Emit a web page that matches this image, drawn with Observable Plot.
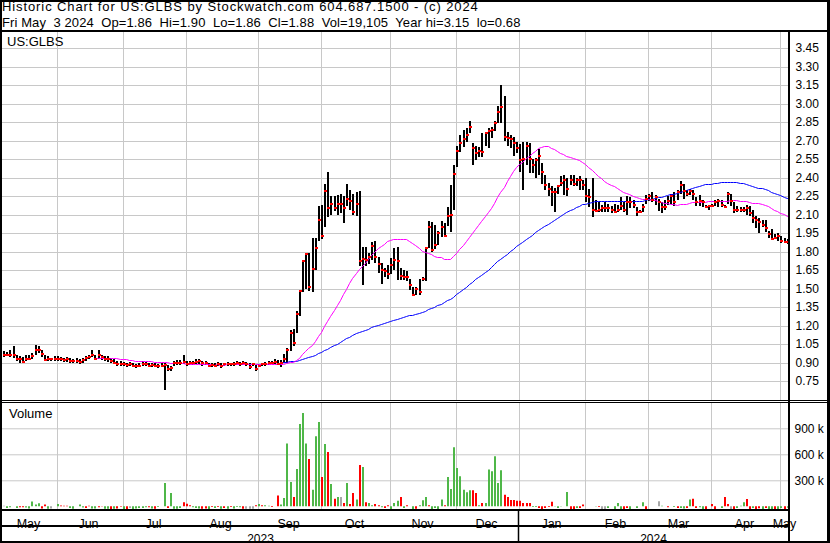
<!DOCTYPE html>
<html>
<head>
<meta charset="utf-8">
<script src="https://cdn.jsdelivr.net/npm/d3@7"></script>
<script src="https://cdn.jsdelivr.net/npm/@observablehq/plot@0.6"></script>
<style>
html,body{margin:0;padding:0;background:#fff;}
#chart{position:relative;width:830px;height:543px;overflow:hidden;background:#fff;font-family:"Liberation Sans",Arial,sans-serif;color:#000;}
#chart .p{position:absolute;left:0;}
#chart .t{position:absolute;white-space:pre;font-size:13px;line-height:13px;}
#chart .l{position:absolute;background:#000;}
</style>
</head>
<body>
<div id="chart"></div>
<script>
// ---------- data ----------
const titleLine = "Historic Chart for US:GLBS by Stockwatch.com 604.687.1500 - (c) 2024";
const quoteLine = "Fri May  3 2024  Op=1.86  Hi=1.90  Lo=1.86  Cl=1.88  Vol=19,105  Year hi=3.15  lo=0.68";
const symbol = "US:GLBS";
const monthNames = ["May","Jun","Jul","Aug","Sep","Oct","Nov","Dec","Jan","Feb","Mar","Apr","May"];
const monthDays  = [17,21,20,23,20,22,21,20,21,20,20,22,3];   // trading days shown per month
const yearNames  = ["2023","2024"];
const yearMonthCount = [8,5];
const priceTicks = [0.75,0.90,1.05,1.20,1.35,1.50,1.65,1.80,1.95,2.10,2.25,2.40,2.55,2.70,2.85,3.00,3.15,3.30,3.45];
const volTicks = [300,600,900];   // thousands

const high = [
.995,.985,1.0,1.03,.96,.955,.945,.96,.96,.975,1.04,1.03,1.0,.965,.95,.94,.95,
.95,.945,.94,.945,.935,.93,.935,.925,.94,.95,.96,1.0,.965,1.0,.965,.955,.95,.935,.925,.915,.91,
.905,.90,.905,.895,.89,.895,.91,.905,.895,.90,.895,.89,.895,.895,.88,.87,.91,.92,.92,.965,
.91,.91,.915,.925,.93,.915,.91,.90,.90,.895,.905,.895,.90,.905,.90,.905,.91,.905,.91,.905,.895,.90,.88,
.89,.90,.905,.91,.915,.925,.92,.92,.97,1.02,1.16,1.17,1.32,1.49,1.73,1.79,1.79,1.91,1.91,2.17,
2.18,2.35,2.45,2.25,2.25,2.26,2.27,2.25,2.35,2.30,2.27,2.28,2.29,1.84,1.84,1.79,1.88,1.89,1.76,1.71,1.67,1.69,
1.75,1.83,1.84,1.67,1.65,1.64,1.58,1.51,1.51,1.58,1.59,1.84,2.05,2.04,2.02,1.97,2.05,2.03,2.16,2.34,2.50,
2.66,2.75,2.79,2.80,2.86,2.68,2.66,2.65,2.76,2.77,2.80,2.81,2.86,2.98,3.15,3.06,2.77,2.75,2.73,2.69,
2.67,2.69,2.69,2.68,2.55,2.56,2.63,2.52,2.42,2.36,2.33,2.32,2.34,2.41,2.42,2.40,2.42,2.42,2.40,2.41,2.38,
2.40,2.31,2.40,2.22,2.20,2.18,2.20,2.19,2.17,2.19,2.18,2.24,2.20,2.25,2.24,2.22,2.16,2.14,2.19,2.26,
2.27,2.28,2.26,2.23,2.20,2.22,2.25,2.27,2.28,2.30,2.37,2.35,2.30,2.31,2.30,2.24,2.26,2.22,2.18,2.18,
2.19,2.22,2.23,2.22,2.18,2.28,2.27,2.20,2.17,2.16,2.16,2.18,2.17,2.14,2.09,2.07,2.06,2.06,1.97,1.98,1.94,1.95,
1.93,1.91,1.90];

const low = [
.945,.95,.945,.94,.915,.90,.895,.915,.92,.925,.96,.975,.945,.91,.91,.91,.915,
.915,.91,.905,.905,.90,.895,.90,.89,.90,.915,.925,.945,.92,.93,.92,.915,.905,.895,.885,.875,.875,
.87,.865,.87,.86,.855,.86,.87,.87,.86,.865,.86,.855,.86,.68,.835,.83,.87,.88,.88,.89,
.875,.88,.88,.885,.89,.875,.88,.865,.865,.86,.87,.855,.87,.875,.87,.875,.88,.875,.88,.875,.85,.87,.835,
.86,.87,.875,.88,.885,.89,.885,.86,.90,.90,.99,1.03,1.14,1.28,1.47,1.50,1.48,1.47,1.65,1.89,
1.90,2.00,2.08,2.10,2.13,2.10,2.11,2.03,2.17,2.14,2.10,2.09,1.68,1.53,1.68,1.70,1.73,1.71,1.63,1.54,1.59,1.58,
1.62,1.65,1.57,1.57,1.57,1.56,1.49,1.44,1.45,1.45,1.56,1.56,1.83,1.80,1.82,1.85,1.92,1.92,2.01,1.96,2.14,
2.49,2.61,2.65,2.69,2.76,2.50,2.54,2.57,2.57,2.66,2.64,2.72,2.78,2.84,2.84,2.70,2.66,2.64,2.58,2.60,
2.45,2.30,2.50,2.44,2.44,2.40,2.42,2.35,2.30,2.25,2.17,2.12,2.27,2.33,2.26,2.25,2.34,2.33,2.33,2.30,2.30,
2.20,2.16,2.08,2.12,2.12,2.12,2.12,2.12,2.11,2.11,2.12,2.14,2.12,2.10,2.15,2.15,2.09,2.11,2.12,2.19,
2.21,2.20,2.18,2.13,2.11,2.14,2.18,2.19,2.17,2.22,2.27,2.23,2.25,2.26,2.22,2.17,2.17,2.16,2.15,2.14,
2.17,2.17,2.16,2.16,2.15,2.19,2.17,2.11,2.12,2.12,2.12,2.10,2.09,2.03,1.99,1.95,2.00,1.96,1.91,1.90,1.91,1.89,
1.87,1.87,1.86];

const close = [
.965,.965,.965,.965,.925,.925,.905,.93,.93,.95,1.005,1.005,.97,.92,.925,.925,.93,
.93,.925,.92,.925,.915,.91,.915,.905,.92,.935,.945,.965,.93,.96,.945,.93,.925,.91,.895,.89,.89,
.885,.88,.885,.87,.87,.875,.89,.885,.875,.88,.875,.87,.875,.88,.85,.855,.895,.90,.895,.905,
.89,.895,.90,.905,.91,.895,.895,.875,.88,.875,.89,.87,.885,.89,.885,.89,.895,.89,.895,.89,.86,.89,.845,
.875,.885,.89,.895,.90,.905,.89,.90,.93,1.0,1.14,1.055,1.29,1.48,1.72,1.78,1.51,1.66,1.83,2.06,
1.93,2.29,2.15,2.19,2.15,2.19,2.19,2.15,2.23,2.21,2.12,2.19,1.72,1.74,1.73,1.76,1.845,1.76,1.70,1.65,1.64,1.62,
1.69,1.73,1.72,1.60,1.59,1.59,1.53,1.45,1.50,1.47,1.58,1.83,2.00,1.81,1.85,1.95,2.00,1.93,2.09,2.10,2.43,
2.62,2.68,2.71,2.75,2.81,2.64,2.60,2.62,2.61,2.76,2.78,2.79,2.84,2.93,2.97,2.73,2.72,2.71,2.68,2.64,
2.54,2.55,2.66,2.55,2.50,2.54,2.58,2.45,2.34,2.31,2.28,2.28,2.33,2.36,2.38,2.31,2.38,2.35,2.38,2.38,2.34,
2.25,2.24,2.14,2.13,2.14,2.15,2.15,2.15,2.14,2.12,2.14,2.17,2.14,2.20,2.20,2.18,2.12,2.12,2.16,2.23,
2.25,2.22,2.24,2.20,2.16,2.16,2.21,2.25,2.20,2.28,2.34,2.29,2.27,2.29,2.27,2.20,2.21,2.20,2.16,2.17,
2.17,2.20,2.21,2.18,2.16,2.27,2.21,2.14,2.14,2.14,2.14,2.15,2.11,2.07,2.06,2.04,2.02,1.99,1.94,1.90,1.91,1.93,
1.89,1.88,1.88];

// daily volume, thousands of shares
const volume = [
40,15,25,35,15,25,25,20,10,90,55,70,10,55,5,10,35,
62,45,42,42,15,5,35,55,20,15,42,8,8,23,38,5,5,2,5,8,30,
4,2,15,2,8,15,15,23,23,8,5,27,35,304,15,188,5,5,15,81,
65,46,23,15,8,5,8,2,27,15,27,5,15,5,27,8,27,23,5,5,5,5,46,
62,46,46,42,27,35,158,54,130,758,315,142,465,985,1112,758,580,227,842,1008,
373,754,661,292,123,142,142,73,304,61,188,112,512,488,81,73,46,61,46,23,15,46,
4,73,100,142,15,46,35,4,5,46,104,142,46,4,15,4,112,46,373,235,715,
477,381,227,196,219,219,188,46,73,73,458,438,611,304,450,169,142,108,108,100,
100,73,73,73,27,27,15,4,15,27,88,31,15,31,35,200,4,4,15,15,54,
35,35,35,38,27,0,0,15,35,4,73,4,4,15,4,35,15,35,81,0,
35,35,35,92,42,35,23,35,27,15,15,8,15,112,123,15,23,4,4,35,
62,0,35,15,142,62,0,4,15,42,81,119,4,15,4,12,4,15,0,4,4,4,
15,4,19];

// volume bar colour as drawn: g = up, r = down, n = unchanged
const volDir = (
"nggrgrrgggggrrgnr" +
"grrrggrggrrggrrggrgrr" +
"grngggggrgrgggrggggr" +
"rrgggrrgrgrgrgrgggrnnnr" +
"grggrgrggggrggggrggg" +
"rgrgrgnrgrrgrgrggrrgrr" +
"gggrgrrgrgggrggggrggg" +
"gggggrrgrggggggrrrrr" +
"rrrrggrrrrrgggrgrrgrr" +
"rgrgrnngrgggrrgrgggr" +
"rrnnggrggrggrgrrggrg" +
"rrggrrnrgggrrgrrgrggrg" +
"grg").split("");

// ---------- checks ----------
const N = close.length;
const total = monthDays.reduce((a,b)=>a+b,0);
for (const [name, arr] of [["high",high],["low",low],["volume",volume],["volDir",volDir]]) {
  if (arr.length !== N) throw new Error(name + " length " + arr.length + " vs close " + N);
}
if (total !== N) throw new Error("monthDays total " + total + " vs " + N);

// ---------- derived ----------
const rows = close.map((c,i)=>({k:i, hi:high[i], lo:low[i], cl:c, vol:volume[i], dir:volDir[i]}));
function sma(n){ const out=[]; for(let i=n-1;i<N;i++){ let s=0; for(let j=i-n+1;j<=i;j++) s+=close[j]; out.push({k:i, v:s/n}); } return out; }
const ma30 = sma(30), ma90 = sma(90);
let acc = 0;
const months = monthNames.map((name,m)=>{ const start=acc; acc+=monthDays[m]; return {name, start, end:acc-1, center:start+(monthDays[m]-1)/2}; });
const monthGrid = months.slice(1).map(d=>d.start);
let mi = 0;
const years = yearNames.map((name,y)=>{ const a=months[mi], b=months[mi+yearMonthCount[y]-1]; mi+=yearMonthCount[y]; return {name, from:a.start-0.5, to:b.end+0.5, center:(a.start+b.end)/2}; });
const yearBreaks = years.slice(1).map(d=>d.from);
const volColor = {g:"#4fb748", r:"#ff0000", n:"#a8a8a8"};

// ---------- layout ----------
const X = {domain:[-0.5, N-0.5], range:[1.6, 788.3], round:true, axis:null};
const font = {fontFamily:"'Liberation Sans', Arial, sans-serif", fontSize:"12px", background:"transparent", color:"#000", overflow:"visible"};
const grid = "#c8c8c8";
const closeTick = {draw(ctx){ ctx.rect(-0.5,-1.5,3,2); }};

const root = document.getElementById("chart");
function place(el, top){ const d=document.createElement("div"); d.className="p"; d.style.top=top+"px"; d.appendChild(el); root.appendChild(d); }
function line(x,y,w,h){ const d=document.createElement("div"); d.className="l"; Object.assign(d.style,{left:x+"px",top:y+"px",width:w+"px",height:h+"px"}); root.appendChild(d); }
function text(s,x,y,ls){ const d=document.createElement("div"); d.className="t"; d.textContent=s; d.style.left=x+"px"; d.style.top=y+"px"; if(ls) d.style.letterSpacing=ls+"px"; root.appendChild(d); }

// price panel (page y 32..400)
const pricePlot = Plot.plot({
  width:830, height:368, marginLeft:2, marginRight:42, marginTop:0, marginBottom:0,
  style:font,
  x:X,
  y:{domain:[0.75,3.45], range:[349,16.3], round:true, axis:null, label:null},
  marks:[
    Plot.ruleY(priceTicks,{stroke:grid}),
    Plot.ruleX(monthGrid,{stroke:grid}),
    Plot.axisY(priceTicks,{anchor:"right", tickSize:0, tickPadding:7, tickFormat:d=>d.toFixed(2), fontSize:12, label:null}),
    Plot.ruleX(rows,{x:"k", y1:"lo", y2:"hi", stroke:"#000", strokeWidth:2, dx:0.5, clip:true}),
    Plot.line(ma90,{x:"k", y:"v", stroke:"#0000ff", strokeWidth:1, curve:"linear"}),
    Plot.line(ma30,{x:"k", y:"v", stroke:"#ff00ff", strokeWidth:1, curve:"linear"}),
    Plot.dot(rows,{x:"k", y:"cl", symbol:closeTick, fill:"#ff0000", stroke:null, r:2, clip:true})
  ]
});

// volume panel (page y 403..510)
const volPlot = Plot.plot({
  width:830, height:107, marginLeft:2, marginRight:42, marginTop:0, marginBottom:0,
  style:font,
  x:X,
  y:{domain:[0,900], range:[103.3,25.3], axis:null, label:null},
  marks:[
    Plot.ruleY(volTicks,{stroke:grid}),
    Plot.ruleX(monthGrid,{stroke:grid}),
    Plot.axisY(volTicks,{anchor:"right", tickSize:0, tickPadding:6, tickFormat:d=>d+" k", fontSize:12, label:null}),
    Plot.ruleX(rows,{x:"k", y1:0, y2:"vol", stroke:d=>volColor[d.dir], strokeWidth:2, dx:0.5, insetBottom:-3, clip:true})
  ]
});

// date rows (page y 511..541)
const datePlot = Plot.plot({
  width:830, height:30, marginLeft:2, marginRight:42, marginTop:0, marginBottom:0,
  style:{...font, fontSize:"12px"},
  x:X,
  marks:[
    Plot.ruleX(yearBreaks,{stroke:"#000", strokeWidth:1.5}),
    Plot.text(months,{x:"center", text:"name", frameAnchor:"top", dy:7.3, fontSize:12.5}),
    Plot.text(years,{x:"center", text:"name", frameAnchor:"top", dy:23.3, fontSize:12})
  ]
});

place(pricePlot, 32);
place(volPlot, 403);

text(titleLine, 2, 0, 0.9);
text(quoteLine, 2, 15.5, 0.1);
text(symbol, 7, 35);
text("Volume", 9, 406.5);

// frame lines
line(0,30,830,2);          // header separator
line(0,400,830,1);         // double separator price/volume
line(0,402,830,1);
line(0,509,790,2);         // volume bottom
line(0,525,790,2);         // month / year separator
line(788,32,2,511);        // right axis separator
line(0,0,830,2); line(0,541,830,2); line(0,0,2,543); line(827,0,3,543);

// date labels drawn last so no frame line sits over them
place(datePlot, 511);
</script>
</body>
</html>
